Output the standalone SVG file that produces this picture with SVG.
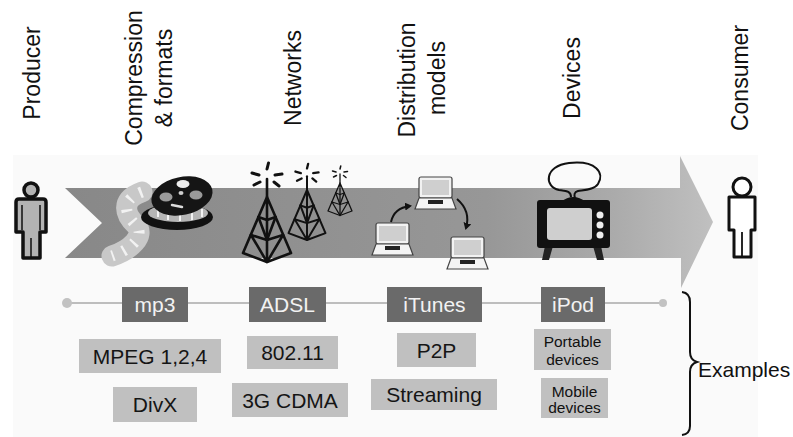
<svg xmlns="http://www.w3.org/2000/svg" xmlns:xlink="http://www.w3.org/1999/xlink" width="793" height="437" viewBox="0 0 793 437">
  <defs>
    <linearGradient id="bandFill" x1="0" y1="0" x2="1" y2="0">
      <stop offset="0" stop-color="#888888"/>
      <stop offset="0.65" stop-color="#979797"/>
      <stop offset="0.85" stop-color="#ababab"/>
      <stop offset="1" stop-color="#c0c0c0"/>
    </linearGradient>
    <marker id="curveHead" markerWidth="8" markerHeight="8" refX="5" refY="4" orient="auto" markerUnits="userSpaceOnUse">
      <path d="M0,0 L7,4 L0,8 Z" fill="#111"/>
    </marker>
    <!-- lattice radio tower, apex at origin -->
    <g id="tower" fill="none" stroke="#111" stroke-width="2.6" stroke-linecap="round" stroke-linejoin="round">
      <path d="M0,0 L-24,56 L0,65 L24,56 Z M0,0 L0,65"/>
      <path d="M-8.6,20 L0,23 L8.6,20 M-16,38 L0,43 L16,38"/>
      <path d="M-8.6,20 L0,43 L8.6,20 M-16,38 L0,65 L16,38"/>
      <path d="M0,0 L0,-18"/>
      <path d="M0,-28 L1.5,-34 M-8,-22 L-15,-24 M8,-22 L15,-23 M-7,-15 L-13,-12 M7,-15 L12,-11" stroke-width="3"/>
    </g>
    <!-- laptop, top-left of screen at origin -->
    <g id="laptop">
      <rect x="0" y="0" width="33" height="21" rx="2" fill="#f2f2f2" stroke="#444" stroke-width="1.2"/>
      <rect x="3" y="3" width="27" height="15" fill="#cfcfcf"/>
      <path d="M0,21 L33,21 L37,32 L-4,32 Z" fill="#f4f4f4" stroke="#444" stroke-width="1.2"/>
      <rect x="9" y="23" width="15" height="4" fill="#222"/>
    </g>
  </defs>
  <style>
    .lbl { font-family: "Liberation Sans", Arial, sans-serif; font-size: 23px; fill: #111; text-anchor: middle; }
    .tag { font-family: "Liberation Sans", Arial, sans-serif; font-size: 21px; text-anchor: middle; }
    .small { font-family: "Liberation Sans", Arial, sans-serif; font-size: 15.5px; fill: #111; text-anchor: middle; }
    .dark { fill: #6a6a6a; }
    .light { fill: #c0c0c0; }
    .on-dark { fill: #f2f2f2; }
    .on-light { fill: #151515; }
  </style>

  <rect width="793" height="437" fill="#ffffff"/>
  <rect x="13" y="155" width="745" height="282" fill="#fafafa"/>

  <!-- stage labels -->
  <g id="stage-labels">
    <text class="lbl" transform="translate(40,73) rotate(-90)">Producer</text>
    <text class="lbl" transform="translate(141.5,78) rotate(-90)">Compression</text>
    <text class="lbl" transform="translate(172,78) rotate(-90)">&amp; formats</text>
    <text class="lbl" transform="translate(301,78) rotate(-90)">Networks</text>
    <text class="lbl" transform="translate(415,80) rotate(-90)">Distribution</text>
    <text class="lbl" transform="translate(445,78) rotate(-90)">models</text>
    <text class="lbl" transform="translate(580,78) rotate(-90)">Devices</text>
    <text class="lbl" transform="translate(748,78) rotate(-90)">Consumer</text>
  </g>

  <!-- value chain band -->
  <g id="band">
    <path d="M65,188 L680,188 L680,156 L713,222 L681,288 L681,258 L65,258 L102,223 Z" fill="url(#bandFill)"/>
  </g>

  <g id="producer">
    <circle cx="31" cy="190" r="7" fill="#b3b3b3" stroke="#111" stroke-width="3.5"/>
    <path d="M19,199 H43 Q46,199 46,202 V232 H40 V258 H23 V232 H16 V202 Q16,199 19,199 Z" fill="#b3b3b3" stroke="#111" stroke-width="3.5" stroke-linejoin="round"/>
    <path d="M31,238 V258 M22,205 V230 M40,205 V230" stroke="#111" stroke-width="1.5" fill="none"/>
  </g>

  <g id="film-reel">
    <path d="M142,192 C120,200 125,215 136,225 C146,236 130,250 112,256" fill="none" stroke="#c8c8c8" stroke-width="21" stroke-linecap="round"/>
    <path d="M142,192 C120,200 125,215 136,225 C146,236 130,250 112,256" fill="none" stroke="#f2f2f2" stroke-width="11" stroke-dasharray="2.5 10"/>
    <ellipse cx="177" cy="217" rx="36" ry="13" fill="#111"/>
    <ellipse cx="178" cy="213" rx="30" ry="9" fill="#b5b5b5"/>
    <path d="M158,209 V217 M168,211 V220 M180,212 V221 M192,211 V220 M202,209 V217" stroke="#f2f2f2" stroke-width="2" fill="none"/>
    <ellipse cx="182" cy="196" rx="31" ry="19" transform="rotate(-12 182 196)" fill="#151515"/>
    <ellipse cx="183" cy="184" rx="6.5" ry="4" fill="#eeeeee"/>
    <ellipse cx="166" cy="197" rx="6.5" ry="4.5" fill="#9a9a9a"/>
    <ellipse cx="196" cy="195" rx="6.5" ry="4.5" fill="#9a9a9a"/>
    <ellipse cx="181" cy="193" rx="2.5" ry="2" fill="#cfcfcf"/>
    <path d="M172,205 L182,207" stroke="#dcdcdc" stroke-width="2.5" stroke-linecap="round"/>
  </g>

  <g id="towers">
    <use xlink:href="#tower" transform="translate(267,197)"/>
    <use xlink:href="#tower" transform="translate(307,190) scale(0.77)"/>
    <use xlink:href="#tower" transform="translate(340,183) scale(0.5)"/>
  </g>

  <g id="laptops">
    <use xlink:href="#laptop" transform="translate(376,223)"/>
    <use xlink:href="#laptop" transform="translate(419,177)"/>
    <use xlink:href="#laptop" transform="translate(451,237)"/>
  </g>

  <g id="connectors" fill="none" stroke="#111" stroke-width="2">
    <path d="M391,222 Q394,208 410,206" marker-end="url(#curveHead)"/>
    <path d="M457,199 Q471,211 466,228" marker-end="url(#curveHead)"/>
    <line x1="67" y1="303" x2="663" y2="303" stroke="#a8a8a8" stroke-width="1.5"/>
  </g>

  <g id="television">
    <path d="M571,197 C571,191 566,191 559,190 C544,187 544,166 569,163 C596,160 605,173 598,184 C594,190 584,190 578,191 C574,192 574,195 575,198" fill="none" stroke="#111" stroke-width="2"/>
    <path d="M561,202 Q573,192 586,202 Z" fill="#111"/>
    <path d="M545,246 L553,246 L549,260 L542,260 Z M593,246 L601,246 L604,260 L597,260 Z" fill="#222"/>
    <rect x="537" y="200" width="73" height="48" rx="3" fill="#111"/>
    <rect x="547" y="208" width="45" height="32" rx="3" fill="#cfcfcf"/>
    <circle cx="600" cy="215" r="3.5" fill="#eeeeee"/>
    <circle cx="600" cy="225" r="3.5" fill="#eeeeee"/>
    <circle cx="600" cy="235" r="3.5" fill="#eeeeee"/>
  </g>

  <g id="consumer">
    <circle cx="742" cy="187" r="9" fill="#ffffff" stroke="#111" stroke-width="3"/>
    <path d="M729,197 H755 V230 H751 V257 H734 V230 H729 Z" fill="#ffffff" stroke="#111" stroke-width="3" stroke-linejoin="round"/>
    <path d="M742,232 V257" stroke="#111" stroke-width="1.8"/>
  </g>

  <g id="timeline-ends" fill="#c2c2c2">
    <circle cx="67" cy="303" r="5"/>
    <circle cx="663" cy="303" r="4"/>
  </g>

  <g id="mp3">
    <rect class="dark" x="122" y="287" width="66" height="35"/>
    <text class="tag on-dark" x="155" y="312">mp3</text>
  </g>
  <g id="adsl">
    <rect class="dark" x="249" y="287" width="77" height="35"/>
    <text class="tag on-dark" x="287.5" y="312">ADSL</text>
  </g>
  <g id="itunes">
    <rect class="dark" x="387" y="287" width="95" height="35"/>
    <text class="tag on-dark" x="434.5" y="312">iTunes</text>
  </g>
  <g id="ipod">
    <rect class="dark" x="541" y="287" width="64" height="35"/>
    <text class="tag on-dark" x="573" y="312">iPod</text>
  </g>

  <g id="mpeg">
    <rect class="light" x="79" y="339" width="142" height="34"/>
    <text class="tag on-light" x="150" y="363.5">MPEG 1,2,4</text>
  </g>
  <g id="divx">
    <rect class="light" x="113" y="387" width="84" height="35"/>
    <text class="tag on-light" x="155" y="412">DivX</text>
  </g>
  <g id="wifi">
    <rect class="light" x="247" y="336" width="91" height="33"/>
    <text class="tag on-light" x="292.5" y="360">802.11</text>
  </g>
  <g id="cdma">
    <rect class="light" x="232" y="383" width="116" height="34"/>
    <text class="tag on-light" x="290" y="407.5">3G CDMA</text>
  </g>
  <g id="p2p">
    <rect class="light" x="397" y="333" width="79" height="34"/>
    <text class="tag on-light" x="436.5" y="357.5">P2P</text>
  </g>
  <g id="streaming">
    <rect class="light" x="371" y="379" width="126" height="31"/>
    <text class="tag on-light" x="434" y="402">Streaming</text>
  </g>
  <g id="portable">
    <rect class="light" x="534" y="329" width="77" height="41"/>
    <text class="small" x="572.5" y="347">Portable</text>
    <text class="small" x="572.5" y="365">devices</text>
  </g>
  <g id="mobile">
    <rect class="light" x="541" y="378" width="67" height="40"/>
    <text class="small" x="574.5" y="397">Mobile</text>
    <text class="small" x="574.5" y="413">devices</text>
  </g>

  <g id="examples">
    <path d="M682,292 Q690,293 690,302 V352 Q690,360 697,362 Q690,364 690,372 V426 Q690,434 682,435" fill="none" stroke="#111" stroke-width="2"/>
    <text x="698" y="377" font-family="Liberation Sans, Arial, sans-serif" font-size="21" fill="#111">Examples</text>
  </g>
</svg>
